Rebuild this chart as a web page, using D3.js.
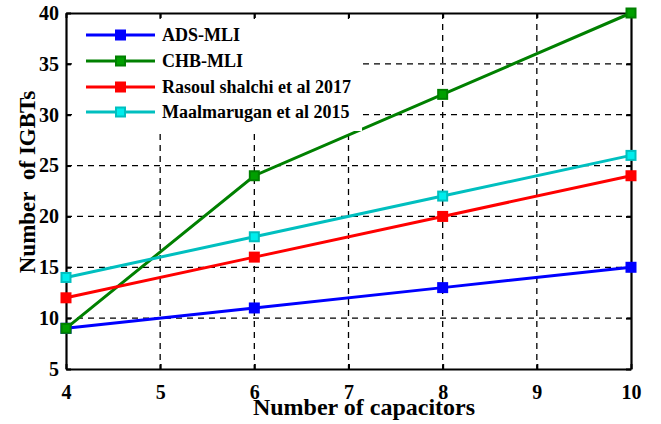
<!DOCTYPE html>
<html>
<head>
<meta charset="utf-8">
<style>
  body { margin: 0; background: #fff; }
  svg text { font-family: "Liberation Serif", "Times New Roman", serif; font-weight: bold; }
  .grid line { stroke: #000; stroke-width: 1.3; stroke-dasharray: 6,5; }
</style>
</head>
<body>
<svg width="661" height="424"></svg>
<script src="https://d3js.org/d3.v7.min.js"></script>
<script>

var capacitors = [4, 6, 8, 10];
var seriesNames = ["ADS-MLI", "CHB-MLI", "Rasoul shalchi et al 2017", "Maalmarugan et al 2015"];
var adsMli = [9, 11, 13, 15];
var chbMli = [9, 24, 32, 40];
var rasoul = [12, 16, 20, 24];
var maal = [14, 18, 22, 26];
var xTicks = [4, 5, 6, 7, 8, 9, 10];
var yTicks = [5, 10, 15, 20, 25, 30, 35, 40];
var colors = ["#0000ff", "#008000", "#ff0000", "#00bfbf"];

var series = [adsMli, chbMli, rasoul, maal].map(function(vals, i) {
    return { name: seriesNames[i], color: colors[i],
             points: vals.map(function(v, j) { return { x: capacitors[j], y: v }; }) };
});

var svg = d3.select("svg");
var mLeft = 66, mRight = 631, mTop = 13, mBottom = 369;

var x = d3.scaleLinear().domain([4, 10]).range([mLeft, mRight]);
var y = d3.scaleLinear().domain([5, 40]).range([mBottom, mTop]);

// dashed grid
var grid = svg.append("g").attr("class", "grid");
grid.selectAll("line.v")
    .data(xTicks.slice(1, -1))
    .enter().append("line")
    .attr("x1", function(d) { return x(d); })
    .attr("x2", function(d) { return x(d); })
    .attr("y1", mTop).attr("y2", mBottom);
grid.selectAll("line.h")
    .data(yTicks.slice(1, -1))
    .enter().append("line")
    .attr("y1", function(d) { return y(d); })
    .attr("y2", function(d) { return y(d); })
    .attr("x1", mLeft).attr("x2", mRight);

// axes (ticks inward on all four sides)
function styleAxis(g) {
    g.select(".domain").attr("stroke", "#000").attr("stroke-width", 2.2);
    g.selectAll(".tick line").attr("stroke", "#000").attr("stroke-width", 2);
    g.selectAll(".tick text").attr("fill", "#000").style("font-size", "20px");
}

svg.append("g")
    .attr("transform", "translate(0," + mBottom + ")")
    .call(d3.axisBottom(x).tickValues(xTicks).tickSizeInner(-5).tickSizeOuter(0).tickPadding(16)
        .tickFormat(d3.format("d")))
    .call(styleAxis);

svg.append("g")
    .attr("transform", "translate(" + mLeft + ",0)")
    .call(d3.axisLeft(y).tickValues(yTicks).tickSizeInner(-5).tickSizeOuter(0).tickPadding(7)
        .tickFormat(d3.format("d")))
    .call(styleAxis);

svg.append("g")
    .attr("transform", "translate(0," + mTop + ")")
    .call(d3.axisTop(x).tickValues(xTicks).tickSizeInner(-5).tickSizeOuter(0).tickFormat(""))
    .call(styleAxis);

svg.append("g")
    .attr("transform", "translate(" + mRight + ",0)")
    .call(d3.axisRight(y).tickValues(yTicks).tickSizeInner(-5).tickSizeOuter(0).tickFormat(""))
    .call(styleAxis);

// lines
var line = d3.line()
    .x(function(d) { return x(d.x); })
    .y(function(d) { return y(d.y); });

var sg = svg.append("g").selectAll("g")
    .data(series)
    .enter().append("g");

sg.append("path")
    .attr("d", function(d) { return line(d.points); })
    .attr("fill", "none")
    .attr("stroke", function(d) { return d.color; })
    .attr("stroke-width", 3);

// legend box (white, covers grid)
var legend = svg.append("g");
legend.append("rect")
    .attr("x", 74).attr("y", 20).attr("width", 288).attr("height", 111)
    .attr("fill", "#fff");

sg.selectAll("rect")
    .data(function(d) { return d.points.map(function(p) { return { p: p, color: d.color }; }); })
    .enter().append("rect")
    .attr("x", function(d) { return x(d.p.x) - 4.5; })
    .attr("y", function(d) { return y(d.p.y) - 4.5; })
    .attr("width", 9).attr("height", 9)
    .attr("fill", function(d) { return d3.color(d.color).brighter(0.6); })
    .attr("stroke", function(d) { return d.color; })
    .attr("stroke-width", 2);

var rowY = [35, 61, 87, 112];
var items = legend.selectAll("g.item")
    .data(series)
    .enter().append("g")
    .attr("transform", function(d, i) { return "translate(0," + rowY[i] + ")"; });
items.append("line")
    .attr("x1", 86).attr("x2", 155)
    .attr("stroke", function(d) { return d.color; })
    .attr("stroke-width", 3);
items.append("rect")
    .attr("x", 116).attr("y", -4.5).attr("width", 9).attr("height", 9)
    .attr("fill", function(d) { return d3.color(d.color).brighter(0.6); })
    .attr("stroke", function(d) { return d.color; })
    .attr("stroke-width", 2);
items.append("text")
    .attr("x", 162).attr("dy", "0.35em")
    .style("font-size", "18px")
    .text(function(d) { return d.name; });

// axis titles
svg.append("text")
    .attr("x", 364).attr("y", 415)
    .attr("text-anchor", "middle")
    .style("font-size", "24px")
    .text("Number of capacitors");

svg.append("text")
    .attr("transform", "translate(35,182) rotate(-90)")
    .attr("text-anchor", "middle")
    .style("font-size", "23px")
    .text("Number\u00a0 of IGBTs");

</script>
</body>
</html>
